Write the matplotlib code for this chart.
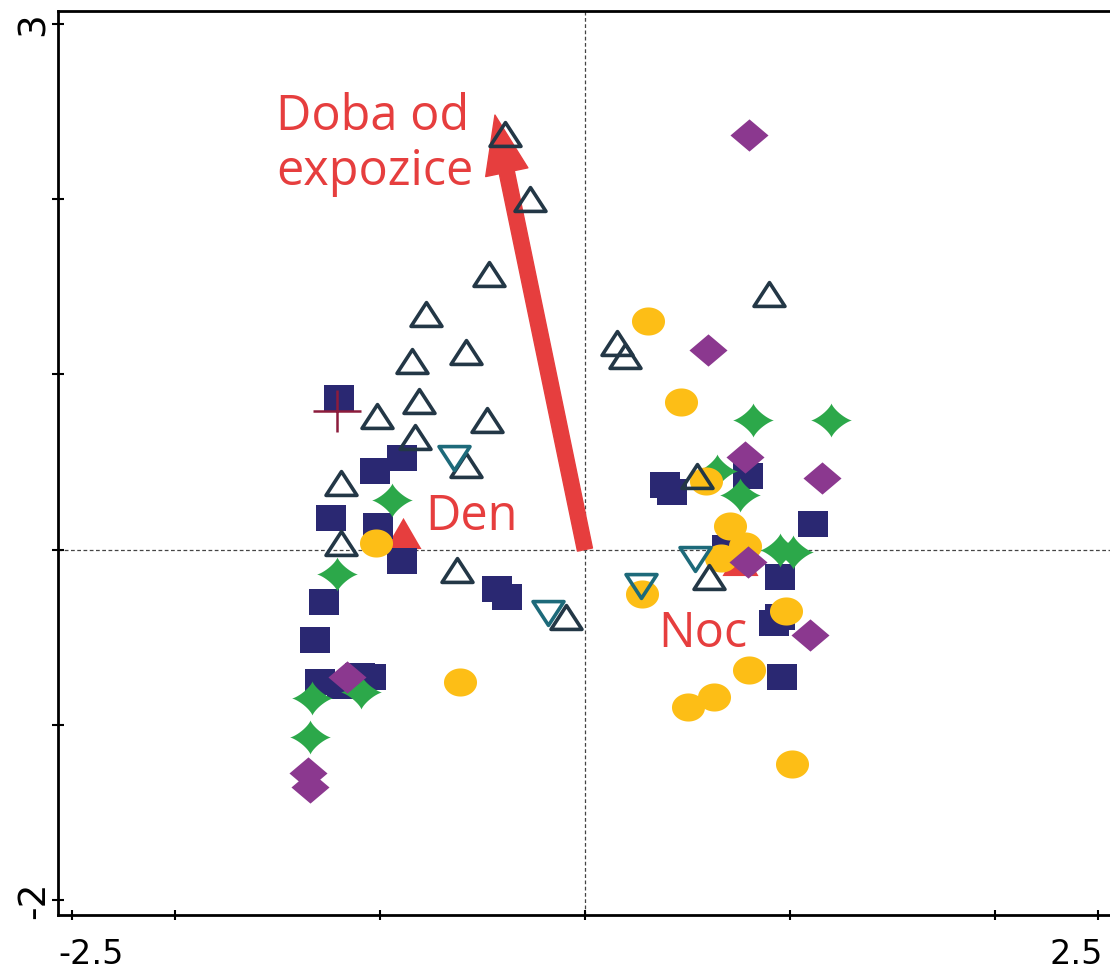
import numpy as np
import matplotlib.pyplot as plt
from matplotlib.path import Path
from matplotlib.patches import FancyArrowPatch

# sample scores, grouped by symbol
sq_x = [-1.199, -1.023, -0.892, -1.238, -1.009, -0.892, -1.272, -1.316, -1.291, -1.184, -1.096, -1.043,
        -0.429, -0.380, 0.390, 0.424, 0.794, 1.111, 0.692, 0.950, 0.950, 0.921, 0.960]
sq_y = [0.865, 0.449, 0.523, 0.180, 0.135, -0.065, -0.299, -0.516, -0.756, -0.779, -0.721, -0.727,
        -0.225, -0.271, 0.369, 0.329, 0.420, 0.146, 0.009, -0.156, -0.385, -0.419, -0.727]

star_x = [-0.941, -1.209, -1.330, -1.340, -1.092, 0.819, 1.199, 0.755, 0.643, 0.950, 1.014]
star_y = [0.283, -0.139, -0.847, -1.070, -0.813, 0.740, 0.740, 0.312, 0.449, -0.002, -0.014]

ell_x = [0.307, 0.468, 0.590, 0.707, 0.780, 0.663, 0.278, 0.980, 0.799, 0.629, 0.502, 1.009, -0.609, -1.019]
ell_y = [1.305, 0.842, 0.392, 0.135, 0.021, -0.048, -0.253, -0.350, -0.687, -0.841, -0.898, -1.224, -0.756, 0.038]

dia_x = [0.799, 0.599, 0.780, 1.155, 0.794, 1.096, -1.160, -1.350, -1.340]
dia_y = [2.366, 1.139, 0.529, 0.409, -0.071, -0.487, -0.727, -1.275, -1.355]

tri_x = [-0.390, -0.268, -0.468, -0.775, -0.580, -0.843, -0.809, -0.478, -1.014, -0.828,
         -0.580, -1.189, -1.189, -0.624, -0.093, 0.156, 0.195, 0.897, 0.546, 0.604]
tri_y = [2.372, 2.001, 1.573, 1.345, 1.128, 1.076, 0.848, 0.740, 0.763, 0.643,
         0.483, 0.380, 0.038, -0.116, -0.385, 1.179, 1.105, 1.459, 0.420, -0.156]

itri_x = [-0.638, -0.180, 0.273, 0.536]
itri_y = [0.523, -0.362, -0.208, -0.054]

plus_x = [-1.209]
plus_y = [0.791]

# supplementary variables
cent_names = ['Den', 'Noc']
cent_x = [-0.887, 0.755]
cent_y = [0.095, -0.059]
arrow_name = 'Doba od\nexpozice'
arrow_x = -0.4386
arrow_y = 2.48

xticks = [-2.5, -2, -1, 0, 1, 2, 2.5]
yticks = [-2, -1, 0, 1, 2, 3]
ytick_labels = ['-2', '', '', '', '', '3']
xlabel_vals = [-2.5, 2.5]

red = '#e63e3e'

# marker shapes
rect = Path([(-1.15, -1), (1.15, -1), (1.15, 1), (-1.15, 1), (-1.15, -1)], closed=True)
diamond = Path([(0, 1), (1.18, 0), (0, -1), (-1.18, 0), (0, 1)], closed=True)
t = np.linspace(0, 2 * np.pi, 72)
ellipse = Path(np.column_stack([np.cos(t), 0.85 * np.sin(t)]), closed=True)
c, s = np.cos(t), np.sin(t)
star4 = Path(np.column_stack([1.2 * np.sign(c) * np.abs(c) ** 2.6, np.sign(s) * np.abs(s) ** 2.6]), closed=True)
tri_up = Path([(0, 1), (-1.3, -1), (1.3, -1), (0, 1)], closed=True)
tri_dn = Path([(0, -1), (-1.3, 1), (1.3, 1), (0, -1)], closed=True)
tri_red = Path([(0, 1), (-1.16, -1), (1.16, -1), (0, 1)], closed=True)
plus = Path([(-1.17, 0), (1.17, 0), (0, -1), (0, 1)],
            [Path.MOVETO, Path.LINETO, Path.MOVETO, Path.LINETO])

fig = plt.figure(figsize=(11.1, 9.72), dpi=100)
ax = fig.add_axes([0.05225, 0.05864, 0.9554, 0.93004])
ax.set_xlim(-2.568, 2.6)
ax.set_ylim(-2.086, 3.074)

ax.axhline(0, color='#444444', lw=0.9, ls=(0, (3, 2)), zorder=1)
ax.axvline(0, color='#444444', lw=0.9, ls=(0, (3, 2)), zorder=1)

arr = FancyArrowPatch((0, 0), (arrow_x, arrow_y),
                      arrowstyle='simple,head_length=4.2,head_width=3.1,tail_width=1.1',
                      mutation_scale=10, color=red, shrinkA=0, shrinkB=0, zorder=2)
ax.add_patch(arr)

ax.plot(cent_x, cent_y, ls='none', marker=tri_red, ms=26, mfc=red, mec=red, mew=0, zorder=2.5)
ax.plot(sq_x, sq_y, ls='none', marker=rect, ms=21.6, mfc='#2a2872', mew=0, zorder=3)
ax.plot(star_x, star_y, ls='none', marker=star4, ms=29.5, mfc='#2ca84a', mew=0, zorder=4)
ax.plot(ell_x, ell_y, ls='none', marker=ellipse, ms=23.8, mfc='#fdbe16', mew=0, zorder=5)
ax.plot(dia_x, dia_y, ls='none', marker=diamond, ms=27.4, mfc='#8b388f', mew=0, zorder=6)
ax.plot(tri_x, tri_y, ls='none', marker=tri_up, ms=22.3, mfc='none', mec='#233746', mew=2.6, zorder=7)
ax.plot(itri_x, itri_y, ls='none', marker=tri_dn, ms=22.3, mfc='none', mec='#1d6a7a', mew=2.6, zorder=7)
ax.plot(plus_x, plus_y, ls='none', marker=plus, ms=35, mfc='none', mec='#8c1c3c', mew=1.8, zorder=8)

tf = dict(color=red, fontsize=35, family='Open Sans', zorder=10)
lines = arrow_name.split('\n')
ax.text(-1.506, 2.395, lines[0], va='baseline', **tf)
ax.text(-1.506, 2.080, lines[1], va='baseline', **tf)
ax.text(-0.780, 0.112, cent_names[0], va='baseline', **tf)
ax.text(0.356, -0.556, cent_names[1], va='baseline', **tf)

for side in ['left', 'top', 'bottom']:
    ax.spines[side].set_linewidth(2.0)
ax.spines['right'].set_visible(False)

ax.set_xticks(xticks)
ax.set_yticks(yticks, labels=ytick_labels)
ax.tick_params(axis='x', direction='inout', length=7, width=1.5, labelbottom=False)
ax.tick_params(axis='y', direction='inout', length=8.5, width=1.5, labelsize=27, pad=0)
for lab in ax.get_yticklabels():
    lab.set_rotation(90)
    lab.set_va('center')

ax.annotate('-2.5', xy=(xlabel_vals[0], 0), xycoords=('data', 'axes fraction'),
            xytext=(-10, -16.5), textcoords='offset points', ha='left', va='top', fontsize=24)
ax.annotate('2.5', xy=(xlabel_vals[1], 0), xycoords=('data', 'axes fraction'),
            xytext=(3.6, -16.5), textcoords='offset points', ha='right', va='top', fontsize=24)

fig.savefig('out.png', dpi=100)
